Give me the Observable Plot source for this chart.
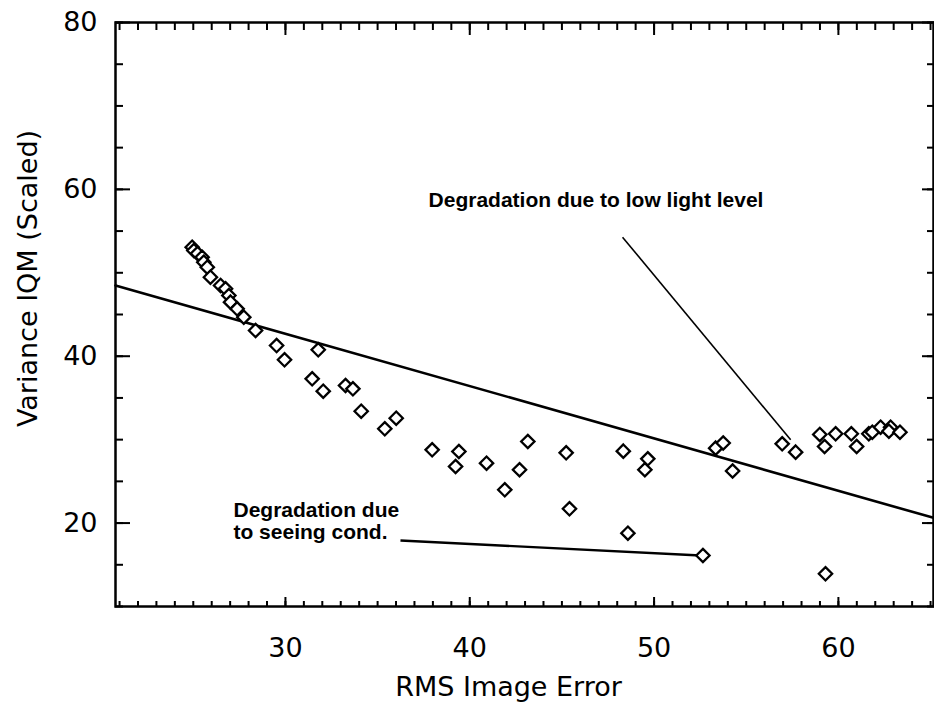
<!DOCTYPE html>
<html><head><meta charset="utf-8">
<script src="https://cdn.jsdelivr.net/npm/d3@7"></script>
<script src="https://cdn.jsdelivr.net/npm/@observablehq/plot@0.6"></script>
<style>body{margin:0;background:#fff}</style>
</head><body><div id="chart"></div>
<script>
// Observed points
const rmsError = [24.94, 25.03, 25.23, 25.48, 25.57, 25.76, 25.93, 26.48, 26.75, 26.93, 27.02, 27.38, 27.74, 28.38, 29.52, 29.95, 31.78, 31.45, 32.05, 33.26, 33.66, 34.11, 36.01, 35.39, 37.96, 39.41, 39.23, 40.91, 43.15, 42.70, 41.90, 45.23, 45.41, 48.33, 49.66, 49.50, 48.58, 52.65, 53.34, 53.75, 54.26, 56.95, 57.68, 58.99, 59.25, 59.85, 60.70, 60.99, 61.65, 61.84, 62.29, 62.83, 62.74, 63.34, 59.30];
const varianceIQM = [53.07, 52.67, 52.31, 51.87, 51.27, 50.67, 49.47, 48.48, 48.08, 47.28, 46.48, 45.68, 44.68, 43.08, 41.28, 39.57, 40.77, 37.29, 35.81, 36.49, 36.09, 33.41, 32.57, 31.30, 28.78, 28.58, 26.78, 27.18, 29.78, 26.39, 23.99, 28.42, 21.71, 28.62, 27.70, 26.39, 18.79, 16.11, 28.98, 29.60, 26.24, 29.50, 28.50, 30.62, 29.18, 30.70, 30.70, 29.18, 30.70, 30.89, 31.49, 31.49, 31.01, 30.89, 13.92];

// Fitted line end points
const fitX = [20.78, 65.16];
const fitY = [48.48, 20.63];

// Annotations
const noteText = ["Degradation due to low light level", "Degradation due\nto seeing cond."];
const noteX = [46.85, 27.18];
const noteY = [58.66, 20.25];
const leaderX1 = [48.29, 36.24];
const leaderY1 = [54.27, 17.91];
const leaderX2 = [57.41, 52.52];
const leaderY2 = [29.98, 16.11];

// Axes
const xTickLabels = [30, 40, 50, 60];
const yTickLabels = [20, 40, 60, 80];
const xMinorTicks = d3.range(21, 66, 1);
const yMinorTicks = d3.range(10, 81, 5);
const xTitle = "RMS Image Error";
const yTitle = "Variance IQM (Scaled)";

const points = rmsError.map((x, i) => ({x, y: varianceIQM[i]}));
const fit = fitX.map((x, i) => ({x, y: fitY[i]}));
const notes = noteText.map((t, i) => ({t, x: noteX[i], y: noteY[i]}));
const leaders = leaderX1.map((x1, i) => ({x1, y1: leaderY1[i], x2: leaderX2[i], y2: leaderY2[i], w: i === 0 ? 1.6 : 2.4}));

const blank = () => "";
const chart = Plot.plot({
  width: 934,
  height: 703,
  marginLeft: 115,
  marginRight: 1,
  marginTop: 22,
  marginBottom: 97,
  style: {fontFamily: "DejaVu Sans", fontSize: "27px", background: "#fff", color: "#000"},
  x: {domain: [20.78, 65.16], axis: null},
  y: {domain: [10, 80], axis: null},
  marks: [
    // tick marks (inward) on all four sides
    Plot.axisX(xMinorTicks, {anchor: "bottom", tickSize: -5, strokeWidth: 2, tickFormat: blank, label: null}),
    Plot.axisX(xTickLabels, {anchor: "bottom", tickSize: -9, strokeWidth: 2, tickFormat: blank, label: null}),
    Plot.axisX(xMinorTicks, {anchor: "top", tickSize: -7, strokeWidth: 2, tickFormat: blank, label: null}),
    Plot.axisX(xTickLabels, {anchor: "top", tickSize: -12, strokeWidth: 2, tickFormat: blank, label: null}),
    Plot.axisY(yMinorTicks, {anchor: "left", tickSize: -8, strokeWidth: 2, tickFormat: blank, label: null}),
    Plot.axisY(yTickLabels, {anchor: "left", tickSize: -15, strokeWidth: 2, tickFormat: blank, label: null}),
    Plot.axisY(yMinorTicks, {anchor: "right", tickSize: -7, strokeWidth: 2, tickFormat: blank, label: null}),
    Plot.axisY(yTickLabels, {anchor: "right", tickSize: -12, strokeWidth: 2, tickFormat: blank, label: null}),
    // tick labels
    Plot.axisX(xTickLabels, {anchor: "bottom", tickSize: 0, tickPadding: 31, fontSize: 27, label: null}),
    Plot.axisY(yTickLabels, {anchor: "left", tickSize: 0, tickPadding: 18, fontSize: 27, label: null}),
    Plot.frame({stroke: "#000", strokeWidth: 2.5}),
    // axis titles
    Plot.text([xTitle], {text: d => d, frameAnchor: "bottom", dx: -16, dy: 81, fontSize: 27, textAnchor: "middle", lineAnchor: "middle"}),
    Plot.text([yTitle], {text: d => d, frameAnchor: "left", rotate: -90, dx: -87, dy: -36, fontSize: 27, textAnchor: "middle", lineAnchor: "middle"}),
    // fitted line
    Plot.line(fit, {x: "x", y: "y", stroke: "#000", strokeWidth: 2.6}),
    // leaders
    Plot.link(leaders, {x1: "x1", y1: "y1", x2: "x2", y2: "y2", stroke: "#000", strokeWidth: "w"}),
    // points
    Plot.dot(points, {x: "x", y: "y", symbol: "diamond2", r: 6, stroke: "#000", strokeWidth: 2.3, fill: "#fff"}),
    // annotation text
    Plot.text(notes.slice(0, 1), {x: "x", y: "y", text: "t", fontFamily: "Liberation Sans", fontWeight: "bold", fontSize: 21, textAnchor: "middle", lineAnchor: "middle"}),
    Plot.text(notes.slice(1), {x: "x", y: "y", text: "t", fontFamily: "Liberation Sans", fontWeight: "bold", fontSize: 21, textAnchor: "start", lineAnchor: "middle", lineHeight: 1.05})
  ]
});
document.getElementById("chart").appendChild(chart);
</script></body></html>
